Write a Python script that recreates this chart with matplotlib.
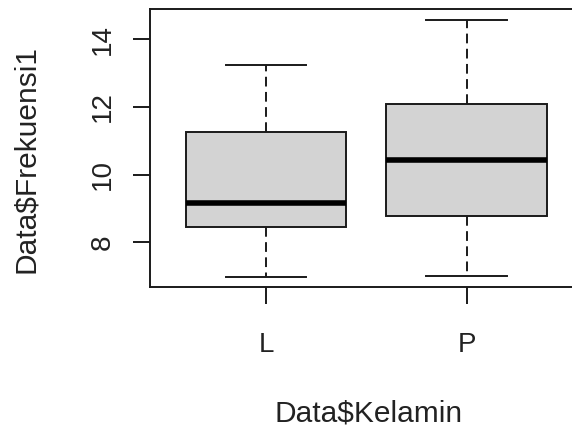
import matplotlib
matplotlib.use("Agg")
import matplotlib.pyplot as plt

categories = ["L", "P"]
whislo = [6.97, 7.01]
q1 = [8.44, 8.78]
med = [9.17, 10.42]
q3 = [11.25, 12.08]
whishi = [13.24, 14.56]
yticks = [8, 10, 12, 14]

plt.rcParams['font.family'] = ['Liberation Sans', 'DejaVu Sans']

fig = plt.figure(figsize=(5.72, 4.29), dpi=100)
ax = fig.add_axes([150/572, 1-287.3/429, 432.7/572, 278/429])

stats = []
for i, c in enumerate(categories):
    stats.append(dict(label=c, whislo=whislo[i], q1=q1[i], med=med[i], q3=q3[i], whishi=whishi[i], fliers=[]))

ax.bxp(stats, positions=[1, 2], widths=0.8, capwidths=0.4, patch_artist=True, showfliers=False,
       boxprops=dict(facecolor='#d3d3d3', edgecolor='#1a1a1a', linewidth=1.4),
       medianprops=dict(color='black', linewidth=4.0, solid_capstyle='butt'),
       whiskerprops=dict(color='#1a1a1a', linewidth=1.4, linestyle=(0, (5, 2.8))),
       capprops=dict(color='#1a1a1a', linewidth=1.4))

ax.set_xlim(0.42, 2.58)
ax.set_ylim(6.67, 14.88)
ax.set_yticks(yticks)
ax.set_yticklabels([str(t) for t in yticks], rotation=90, va='center')
ax.set_xticks([1, 2])
ax.set_xticklabels(categories)
for s in ax.spines.values():
    s.set_linewidth(1.4)
    s.set_color('#1a1a1a')
ax.tick_params(axis='both', direction='out', length=12.5, width=1.4, colors='#1a1a1a', labelsize=20, labelcolor='#222222')
ax.tick_params(axis='y', pad=12)
ax.tick_params(axis='x', pad=20)

fig.text(369/572, 1-414/429, "Data$Kelamin", ha='center', va='center', fontsize=21.5, color='#222222')
fig.text(26/572, 1-159/429, "Data$Frekuensi1", ha='center', va='center', rotation=90, fontsize=21.5, color='#222222')

fig.savefig("out.png", dpi=100)
